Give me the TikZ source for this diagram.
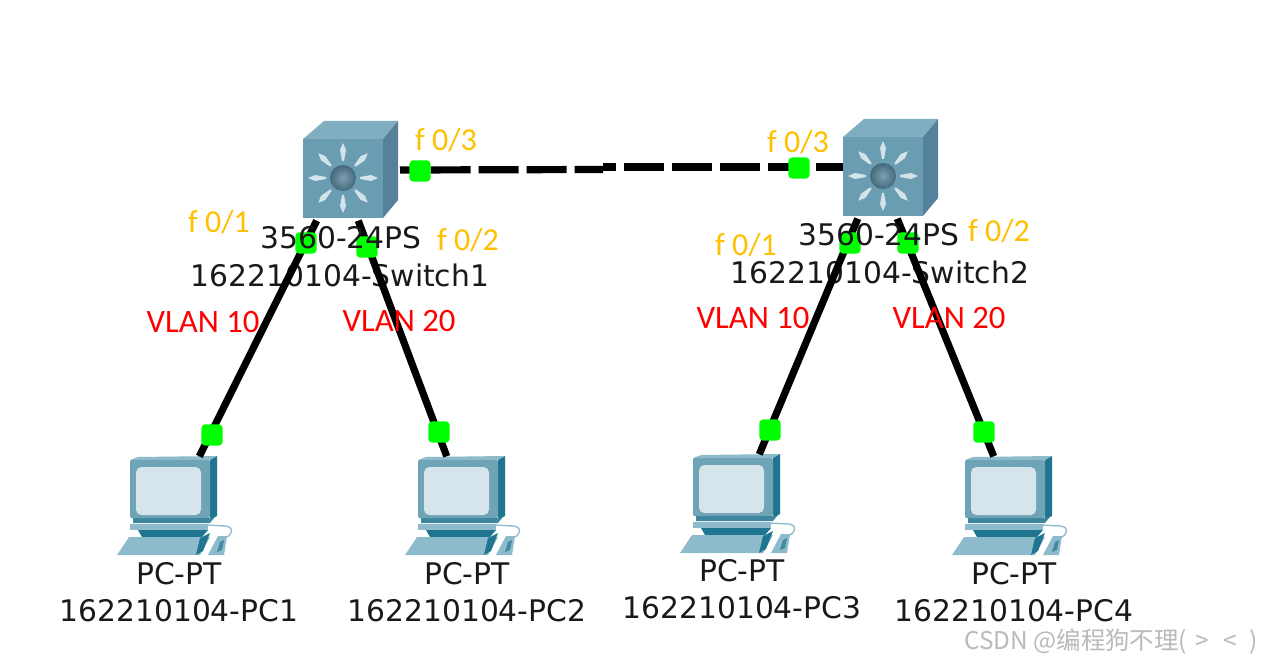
\documentclass[tikz,border=0pt]{standalone}
\usepackage{fontspec}
\setmainfont{DejaVu Sans}
\newfontfamily\lblfont{Carlito}
\newfontfamily\cjk{Noto Sans CJK SC}
\usetikzlibrary{calc}
\definecolor{swfront}{HTML}{6A9DB2}
\definecolor{swtop}{HTML}{80ADBF}
\definecolor{swside}{HTML}{55829A}
\definecolor{orbin}{HTML}{7E9FB0}
\definecolor{orbout}{HTML}{44697C}
\definecolor{ray}{HTML}{D3E3EA}
\definecolor{pcbody}{HTML}{6FA3B6}
\definecolor{pcdark}{HTML}{1F7590}
\definecolor{pclight}{HTML}{8DBBCB}
\definecolor{pcscreen}{HTML}{D6E4EC}
\definecolor{lblorange}{HTML}{FFC000}
\tikzset{
  x=0.75pt,y=-0.75pt,
  wire/.style={line width=5.4pt,black},
  trunk/.style={line width=5.4pt,black,dash pattern=on 30pt off 6pt},
  led/.style={draw=none,fill=green,rounded corners=3pt,minimum size=16pt,inner sep=0pt,outer sep=0pt},
  devname/.style={font=\fontsize{22.3}{26}\selectfont,text=black!90,inner sep=0pt},
  portlbl/.style={font=\lblfont\fontsize{24}{28}\selectfont,text=lblorange,inner sep=0pt},
  vlanlbl/.style={font=\lblfont\fontsize{24.5}{28}\selectfont,text=red,inner sep=0pt},
  anchorbox/.style={inner sep=0pt,outer sep=0pt,minimum width=1pt,minimum height=1pt},
  switchicon/.pic={
    \fill[swtop] (0,0) -- (21,-18) -- (95,-18) -- (80,0) -- cycle;
    \fill[swside] (80,0) -- (95,-18) -- (95,61) -- (80,79) -- cycle;
    \fill[swfront] (0,0) rectangle (80,79);
    \foreach \a in {0,45,...,315}{
      \fill[ray,rotate around={\a:(40,39)}] (57,38) -- (68,36) -- (75,39) -- (68,42) -- (57,40) -- cycle;
    }
    \shade[inner color=orbin,outer color=orbout] (40,39) circle[radius=13];
  },
  pcicon/.pic={
    \fill[pcdark] (80,-1) -- (87,-4) -- (87,56) -- (80,60) -- cycle;
    \fill[pclight] (0,0) -- (8,-3) -- (87,-4) -- (80,0) -- cycle;
    \fill[pcbody,rounded corners=1pt] (0,0) rectangle (80,58);
    \fill[pcscreen,rounded corners=4pt] (6,7) rectangle (71,55);
    \fill[pcdark!60!pcbody] (3,58) -- (84,58) -- (80,63) -- (3,63) -- cycle;
    \fill[pclight] (0,64) rectangle (78,70);
    \fill[pcdark] (8,70) -- (78,70) -- (72,77) -- (12,77) -- cycle;
    \fill[pclight] (-1,77) -- (80,77) -- (70,95) -- (-13,95) -- cycle;
    \fill[pcdark] (70,78) -- (80,73) -- (73,91) -- (66,95) -- cycle;
    \draw[pclight,line width=1pt] (76,65) -- (96,66) .. controls (106,68) and (101,76) .. (95,78);
    \fill[pclight] (88,76) -- (97,76) -- (94,95) -- (78,95) -- cycle;
    \fill[pcdark!70!pclight] (90,82) -- (94,80) -- (92,90) -- (87,92) -- cycle;
  }
}
\begin{document}
\begin{tikzpicture}
\useasboundingbox (0,0) rectangle (1271,663);
\fill[white] (0,0) rectangle (1271,663);

% icons
\pic at (303,139) {switchicon};
\pic at (843,137) {switchicon};
\pic at (130,460) {pcicon};
\pic at (418,460) {pcicon};
\pic at (693,458) {pcicon};
\pic at (965,460) {pcicon};

% connector end points
\node[anchorbox] (sw1a) at (317,220) {};
\node[anchorbox] (sw1b) at (358,220) {};
\node[anchorbox] (sw1c) at (400,170) {};
\node[anchorbox] (sw2a) at (858,218) {};
\node[anchorbox] (sw2b) at (897,218) {};
\node[anchorbox] (sw2c) at (843,167) {};
\node[anchorbox] (pc1) at (199,457) {};
\node[anchorbox] (pc2) at (447,457) {};
\node[anchorbox] (pc3) at (759,455) {};
\node[anchorbox] (pc4) at (994,457) {};
\coordinate (midl) at (603,169.5);
\coordinate (midr) at (603,167);

% second name lines lie under the cables
\node[devname] at (340,275) {162210104-Switch1};
\node[devname] at (880,272) {162210104-Switch2};

% cables
\draw[wire] (sw1a) -- (pc1);
\draw[wire] (sw1b) -- (pc2);
\draw[wire] (sw2a) -- (pc3);
\draw[wire] (sw2b) -- (pc4);
\draw[trunk,dash phase=13pt] (sw1c.center) -- (midl);
\draw[trunk,dash phase=10pt] (sw2c.center) -- (midr);

% link lights
\node[led] (l1) at (420,171) {};
\node[led] (l2) at (306,243) {};
\node[led] (l3) at (367,247) {};
\node[led] (l4) at (212,435) {};
\node[led] (l5) at (439,432) {};
\node[led] (l6) at (799,168) {};
\node[led] (l7) at (850,243) {};
\node[led] (l8) at (908,243) {};
\node[led] (l9) at (770,430) {};
\node[led] (l10) at (984,432) {};

% names
\node[devname] at (341,238) {3560-24PS};
\node[devname] at (879,235) {3560-24PS};
\node[devname] at (179,574) {PC-PT};
\node[devname] at (179,611) {162210104-PC1};
\node[devname] at (467,574) {PC-PT};
\node[devname] at (467,611) {162210104-PC2};
\node[devname] at (742,571) {PC-PT};
\node[devname] at (742,608) {162210104-PC3};
\node[devname] at (1014,574) {PC-PT};
\node[devname] at (1014,611) {162210104-PC4};

% port labels
\node[portlbl] at (446,140) {f 0/3};
\node[portlbl] at (219,222) {f 0/1};
\node[portlbl] at (468,240) {f 0/2};
\node[portlbl] at (798,142) {f 0/3};
\node[portlbl] at (746,245) {f 0/1};
\node[portlbl] at (999,231) {f 0/2};

% vlan labels
\node[vlanlbl] at (203,322) {VLAN 10};
\node[vlanlbl] at (399,321) {VLAN 20};
\node[vlanlbl] at (753,318) {VLAN 10};
\node[vlanlbl] at (949,318) {VLAN 20};

% watermark
\node[font=\cjk\fontsize{18.3}{20}\selectfont,text=black!27,anchor=west,inner sep=0pt] at (964,642) {CSDN @编程狗不理(\hspace{6.5pt}>\hspace{11pt}<\hspace{9pt})};
\end{tikzpicture}
\end{document}
